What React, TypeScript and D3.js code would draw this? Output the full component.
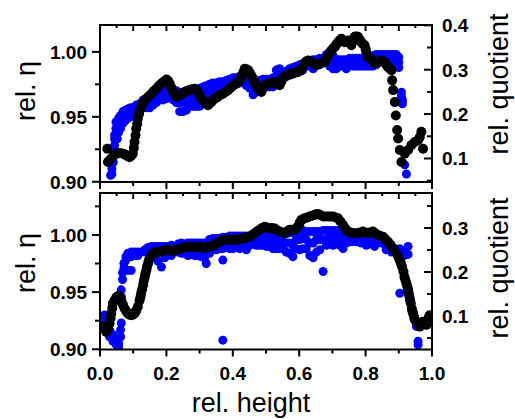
import React from 'react';
import * as d3 from 'd3';

// ---------- axis ticks ----------
const xMajor = [0, 0.2, 0.4, 0.6, 0.8, 1.0];
const xMinor = [0.1, 0.3, 0.5, 0.7, 0.9];
const xTopMajor = [0.1, 0.2, 0.3, 0.4, 0.5, 0.6, 0.7, 0.8, 0.9];
const xTopMinor = [0.05, 0.15, 0.25, 0.35, 0.45, 0.55, 0.65, 0.75, 0.85, 0.95];
const xLabels = ['0.0', '0.2', '0.4', '0.6', '0.8', '1.0'];
const etaMajor = [0.9, 0.95, 1.0];
const etaMinor = [0.925, 0.975, 1.025];
const quotMajor = [0.1, 0.2, 0.3, 0.4];
const quotMinor = [0.05, 0.15, 0.25, 0.35];

// ---------- top panel data ----------
// blue: rel. eta (left axis)
const topEta: [number, number][] = [
  [0.032, 0.905], [0.036, 0.910], [0.036, 0.906],
  [0.040, 0.920], [0.040, 0.915], [0.040, 0.926],
  [0.044, 0.933], [0.044, 0.928], [0.044, 0.936],
  [0.048, 0.941], [0.048, 0.937], [0.048, 0.946], [0.048, 0.923],
  [0.052, 0.946], [0.052, 0.941], [0.052, 0.933],
  [0.056, 0.949], [0.056, 0.943], [0.056, 0.938],
  [0.062, 0.951], [0.062, 0.946], [0.062, 0.941],
  [0.069, 0.954], [0.069, 0.949], [0.069, 0.945],
  [0.076, 0.955], [0.076, 0.951], [0.076, 0.947],
  [0.084, 0.956], [0.084, 0.952], [0.084, 0.949],
  [0.092, 0.957], [0.092, 0.954], [0.092, 0.950],
  [0.100, 0.957], [0.100, 0.955], [0.100, 0.952],
  [0.109, 0.959], [0.109, 0.956],
  [0.119, 0.960], [0.119, 0.957],
  [0.130, 0.963], [0.130, 0.959],
  [0.140, 0.964], [0.140, 0.960], [0.140, 0.957],
  [0.150, 0.966], [0.150, 0.961], [0.150, 0.957],
  [0.160, 0.968], [0.160, 0.963], [0.160, 0.959],
  [0.170, 0.969], [0.170, 0.965], [0.170, 0.961],
  [0.180, 0.970], [0.180, 0.966], [0.180, 0.963],
  [0.190, 0.970], [0.190, 0.967], [0.190, 0.963],
  [0.200, 0.972], [0.200, 0.968], [0.200, 0.964],
  [0.210, 0.972], [0.210, 0.969], [0.210, 0.966],
  [0.220, 0.970], [0.220, 0.966], [0.220, 0.963],
  [0.230, 0.970], [0.230, 0.965], [0.230, 0.961],
  [0.240, 0.969], [0.240, 0.961], [0.240, 0.954],
  [0.250, 0.969], [0.250, 0.961], [0.250, 0.954],
  [0.260, 0.970], [0.260, 0.964], [0.260, 0.955],
  [0.270, 0.971], [0.270, 0.965], [0.270, 0.959],
  [0.280, 0.970], [0.280, 0.964], [0.280, 0.958],
  [0.290, 0.970], [0.290, 0.964], [0.290, 0.958],
  [0.300, 0.972], [0.300, 0.965], [0.300, 0.958],
  [0.310, 0.973], [0.310, 0.968], [0.310, 0.961],
  [0.320, 0.974], [0.320, 0.969], [0.320, 0.964],
  [0.330, 0.975], [0.330, 0.970], [0.330, 0.964],
  [0.340, 0.976], [0.340, 0.972], [0.340, 0.968],
  [0.350, 0.976], [0.350, 0.973], [0.350, 0.970],
  [0.360, 0.977], [0.360, 0.974], [0.360, 0.971],
  [0.370, 0.977], [0.370, 0.975], [0.370, 0.972],
  [0.380, 0.978], [0.380, 0.975], [0.380, 0.973],
  [0.390, 0.979], [0.390, 0.976], [0.390, 0.973],
  [0.400, 0.980], [0.400, 0.977], [0.400, 0.975],
  [0.410, 0.980], [0.410, 0.978], [0.410, 0.975],
  [0.420, 0.981], [0.420, 0.979], [0.420, 0.976],
  [0.430, 0.983], [0.430, 0.980], [0.430, 0.979],
  [0.441, 0.982], [0.441, 0.978], [0.441, 0.974],
  [0.451, 0.979], [0.451, 0.974], [0.451, 0.972],
  [0.461, 0.977], [0.461, 0.972], [0.461, 0.967],
  [0.471, 0.977], [0.471, 0.973], [0.471, 0.969],
  [0.481, 0.978], [0.481, 0.975], [0.481, 0.972],
  [0.491, 0.979], [0.491, 0.976], [0.491, 0.972],
  [0.501, 0.979], [0.501, 0.976], [0.501, 0.973],
  [0.511, 0.979], [0.511, 0.977], [0.511, 0.973],
  [0.521, 0.980], [0.521, 0.977], [0.521, 0.973],
  [0.531, 0.986], [0.531, 0.980], [0.531, 0.976],
  [0.541, 0.987], [0.541, 0.983], [0.541, 0.980],
  [0.551, 0.984], [0.551, 0.982], [0.551, 0.980],
  [0.561, 0.985], [0.561, 0.983], [0.561, 0.981],
  [0.571, 0.987], [0.571, 0.984], [0.571, 0.982],
  [0.581, 0.988], [0.581, 0.986], [0.581, 0.983],
  [0.591, 0.989], [0.591, 0.987], [0.591, 0.985],
  [0.601, 0.990], [0.601, 0.988], [0.601, 0.986],
  [0.611, 0.991], [0.611, 0.989], [0.611, 0.986],
  [0.621, 0.993], [0.621, 0.991], [0.621, 0.989],
  [0.632, 0.993], [0.632, 0.992], [0.632, 0.989],
  [0.642, 0.994], [0.642, 0.991], [0.642, 0.987],
  [0.652, 0.994], [0.652, 0.992], [0.652, 0.990],
  [0.662, 0.995], [0.662, 0.992], [0.662, 0.990],
  [0.672, 0.995], [0.672, 0.994], [0.672, 0.992],
  [0.682, 0.998], [0.682, 0.996], [0.682, 0.992],
  [0.692, 0.997], [0.692, 0.993], [0.692, 0.989],
  [0.702, 0.997], [0.702, 0.992], [0.702, 0.987],
  [0.712, 0.994], [0.712, 0.991], [0.712, 0.987],
  [0.722, 0.994], [0.722, 0.992], [0.722, 0.989],
  [0.732, 0.994], [0.732, 0.992], [0.732, 0.989],
  [0.742, 0.994], [0.742, 0.992], [0.742, 0.987],
  [0.752, 0.995], [0.752, 0.992], [0.752, 0.989],
  [0.763, 0.995], [0.763, 0.993], [0.763, 0.989],
  [0.772, 0.995], [0.772, 0.992], [0.772, 0.989],
  [0.782, 0.995], [0.782, 0.992], [0.782, 0.989],
  [0.792, 0.995], [0.792, 0.993], [0.792, 0.989],
  [0.802, 0.997], [0.802, 0.993], [0.802, 0.989],
  [0.812, 0.997], [0.812, 0.992], [0.812, 0.989],
  [0.822, 0.997], [0.822, 0.993], [0.822, 0.989],
  [0.832, 0.998], [0.832, 0.994], [0.832, 0.990],
  [0.842, 0.998], [0.842, 0.995], [0.842, 0.992],
  [0.852, 0.998], [0.852, 0.996], [0.852, 0.993],
  [0.862, 0.998], [0.862, 0.996], [0.862, 0.995],
  [0.872, 0.998], [0.872, 0.996], [0.872, 0.995],
  [0.882, 0.998], [0.882, 0.996], [0.882, 0.993],
  [0.892, 0.998], [0.892, 0.995], [0.892, 0.991],
  [0.900, 0.996], [0.900, 0.992], [0.900, 0.988],
  [0.908, 0.969], [0.908, 0.966], [0.908, 0.961],
  [0.911, 0.960], [0.911, 0.963],
  [0.918, 0.913], [0.923, 0.906],
];

// black: rel. quotient (right axis)
const topQuot: [number, number][] = [
  [0.022, 0.122], [0.024, 0.092], [0.029, 0.096], [0.034, 0.100], [0.041, 0.106],
  [0.049, 0.111], [0.057, 0.112], [0.064, 0.112], [0.072, 0.110], [0.079, 0.107],
  [0.084, 0.105], [0.089, 0.103], [0.094, 0.106], [0.099, 0.111], [0.102, 0.124],
  [0.104, 0.137], [0.107, 0.152], [0.109, 0.167], [0.112, 0.178], [0.114, 0.190],
  [0.118, 0.201], [0.122, 0.212], [0.126, 0.220], [0.130, 0.227], [0.135, 0.231],
  [0.140, 0.235], [0.147, 0.240], [0.155, 0.246], [0.162, 0.252], [0.170, 0.257],
  [0.177, 0.263], [0.185, 0.269], [0.192, 0.273], [0.200, 0.278], [0.205, 0.275],
  [0.210, 0.269], [0.215, 0.259], [0.220, 0.250], [0.225, 0.244], [0.230, 0.239],
  [0.235, 0.240], [0.240, 0.242], [0.247, 0.246], [0.255, 0.250], [0.262, 0.252],
  [0.270, 0.254], [0.277, 0.256], [0.285, 0.257], [0.290, 0.254], [0.295, 0.250],
  [0.300, 0.243], [0.305, 0.235], [0.310, 0.231], [0.315, 0.227], [0.320, 0.223],
  [0.325, 0.220], [0.330, 0.224], [0.335, 0.227], [0.340, 0.231], [0.345, 0.235],
  [0.350, 0.237], [0.355, 0.239], [0.362, 0.243], [0.370, 0.246], [0.378, 0.250],
  [0.386, 0.254], [0.391, 0.258], [0.396, 0.261], [0.403, 0.265], [0.411, 0.269],
  [0.416, 0.273], [0.421, 0.276], [0.426, 0.283], [0.430, 0.290], [0.433, 0.296],
  [0.436, 0.302], [0.441, 0.301], [0.446, 0.299], [0.451, 0.293], [0.456, 0.287],
  [0.461, 0.280], [0.466, 0.272], [0.471, 0.264], [0.476, 0.257], [0.481, 0.253],
  [0.486, 0.250], [0.491, 0.258], [0.496, 0.265], [0.503, 0.267], [0.511, 0.269],
  [0.518, 0.271], [0.526, 0.272], [0.533, 0.268], [0.541, 0.265], [0.546, 0.273],
  [0.551, 0.280], [0.556, 0.284], [0.561, 0.287], [0.568, 0.289], [0.576, 0.291],
  [0.581, 0.292], [0.586, 0.293], [0.591, 0.294], [0.596, 0.295], [0.601, 0.297],
  [0.606, 0.299], [0.611, 0.307], [0.616, 0.314], [0.621, 0.318], [0.627, 0.321],
  [0.632, 0.319], [0.637, 0.317], [0.645, 0.313], [0.652, 0.310], [0.657, 0.312],
  [0.662, 0.314], [0.670, 0.316], [0.677, 0.317], [0.682, 0.325], [0.687, 0.332],
  [0.692, 0.338], [0.697, 0.344], [0.702, 0.348], [0.707, 0.351], [0.712, 0.357],
  [0.717, 0.362], [0.722, 0.366], [0.727, 0.370], [0.732, 0.366], [0.737, 0.362],
  [0.742, 0.364], [0.747, 0.366], [0.752, 0.360], [0.757, 0.355], [0.762, 0.365],
  [0.767, 0.374], [0.772, 0.375], [0.777, 0.374], [0.782, 0.368], [0.787, 0.362],
  [0.792, 0.358], [0.797, 0.355], [0.800, 0.347], [0.802, 0.340], [0.807, 0.329],
  [0.812, 0.327], [0.817, 0.325], [0.822, 0.320], [0.827, 0.314], [0.832, 0.316],
  [0.837, 0.317], [0.842, 0.319], [0.847, 0.321], [0.852, 0.319], [0.857, 0.317],
  [0.862, 0.312], [0.867, 0.306], [0.872, 0.303], [0.878, 0.299], [0.880, 0.276],
  [0.883, 0.254], [0.888, 0.227], [0.891, 0.197], [0.895, 0.164], [0.898, 0.145],
  [0.903, 0.119], [0.908, 0.092], [0.918, 0.111], [0.928, 0.119], [0.938, 0.130],
  [0.948, 0.137], [0.958, 0.141], [0.963, 0.148], [0.968, 0.160], [0.973, 0.122],
];

// ---------- bottom panel data ----------
const bottomEta: [number, number][] = [
  [0.006, 0.929], [0.014, 0.930], [0.014, 0.924], [0.022, 0.921], [0.022, 0.917],
  [0.029, 0.917], [0.029, 0.911], [0.039, 0.913], [0.039, 0.907], [0.049, 0.908],
  [0.049, 0.904], [0.056, 0.905], [0.056, 0.902], [0.062, 0.911], [0.062, 0.917],
  [0.064, 0.952], [0.064, 0.946], [0.064, 0.923], [0.068, 0.961], [0.068, 0.967],
  [0.072, 0.971], [0.072, 0.975], [0.078, 0.981], [0.078, 0.978],
  [0.084, 0.984], [0.084, 0.981], [0.084, 0.969],
  [0.094, 0.985], [0.094, 0.981], [0.094, 0.969],
  [0.104, 0.985], [0.104, 0.982], [0.114, 0.985], [0.114, 0.982], [0.124, 0.985],
  [0.135, 0.985], [0.135, 0.987], [0.145, 0.989], [0.145, 0.985],
  [0.155, 0.990], [0.155, 0.986], [0.165, 0.990], [0.165, 0.986],
  [0.175, 0.990], [0.175, 0.985], [0.175, 0.977],
  [0.185, 0.990], [0.185, 0.985], [0.185, 0.972],
  [0.195, 0.990], [0.195, 0.984], [0.195, 0.980],
  [0.205, 0.990], [0.205, 0.986],
  [0.215, 0.991], [0.215, 0.987], [0.215, 0.982],
  [0.225, 0.990], [0.225, 0.986],
  [0.235, 0.992], [0.235, 0.987], [0.235, 0.985],
  [0.245, 0.993], [0.245, 0.988], [0.245, 0.984],
  [0.255, 0.992], [0.255, 0.987], [0.255, 0.984],
  [0.265, 0.993], [0.265, 0.988], [0.265, 0.982],
  [0.275, 0.993], [0.275, 0.989], [0.275, 0.983],
  [0.285, 0.993], [0.285, 0.989], [0.285, 0.982],
  [0.295, 0.993], [0.295, 0.988], [0.295, 0.982],
  [0.305, 0.993], [0.305, 0.987], [0.305, 0.981],
  [0.315, 0.993], [0.315, 0.987], [0.315, 0.980], [0.320, 0.975],
  [0.330, 0.996], [0.330, 0.990], [0.330, 0.984],
  [0.340, 0.997], [0.340, 0.991], [0.340, 0.987],
  [0.350, 0.997], [0.350, 0.993], [0.350, 0.987],
  [0.360, 0.997], [0.360, 0.993], [0.360, 0.988],
  [0.370, 0.998], [0.370, 0.993], [0.370, 0.988], [0.370, 0.978], [0.370, 0.908],
  [0.381, 0.998], [0.381, 0.993], [0.381, 0.989],
  [0.391, 0.999], [0.391, 0.994], [0.391, 0.988],
  [0.401, 0.999], [0.401, 0.994], [0.401, 0.988],
  [0.411, 0.999], [0.411, 0.994], [0.411, 0.989],
  [0.421, 0.999], [0.421, 0.993], [0.421, 0.988],
  [0.431, 0.999], [0.431, 0.994], [0.431, 0.990],
  [0.441, 0.999], [0.441, 0.994], [0.441, 0.987],
  [0.451, 0.999], [0.451, 0.995], [0.451, 0.991],
  [0.461, 0.999], [0.461, 0.996], [0.461, 0.993],
  [0.471, 0.999], [0.471, 0.996], [0.471, 0.991],
  [0.481, 1.000], [0.481, 0.996], [0.481, 0.991],
  [0.491, 1.000], [0.491, 0.996], [0.491, 0.991],
  [0.501, 1.000], [0.501, 0.996], [0.501, 0.990],
  [0.511, 1.000], [0.511, 0.996], [0.511, 0.990],
  [0.521, 1.000], [0.521, 0.994], [0.521, 0.988],
  [0.531, 1.000], [0.531, 0.994], [0.531, 0.988],
  [0.541, 1.000], [0.541, 0.993], [0.541, 0.988],
  [0.551, 1.000], [0.551, 0.994], [0.551, 0.988],
  [0.561, 1.001], [0.561, 0.993], [0.561, 0.985],
  [0.571, 1.002], [0.571, 0.993], [0.571, 0.984],
  [0.581, 1.002], [0.581, 0.991], [0.581, 0.981],
  [0.591, 1.002], [0.591, 0.996], [0.591, 0.988],
  [0.601, 1.003], [0.601, 0.996], [0.601, 0.987],
  [0.611, 1.004], [0.611, 0.997], [0.611, 0.988],
  [0.621, 1.003], [0.621, 0.996], [0.621, 0.988],
  [0.632, 1.003], [0.632, 0.993], [0.632, 0.982],
  [0.642, 1.003], [0.642, 0.993], [0.642, 0.980],
  [0.652, 1.003], [0.652, 0.996], [0.652, 0.985],
  [0.662, 1.003], [0.662, 0.996], [0.662, 0.987],
  [0.672, 1.004], [0.672, 0.996], [0.672, 0.968],
  [0.682, 1.004], [0.682, 0.996], [0.682, 0.991],
  [0.692, 1.004], [0.692, 1.000], [0.692, 0.994],
  [0.702, 1.004], [0.702, 0.999], [0.702, 0.991],
  [0.712, 1.004], [0.712, 0.999], [0.712, 0.993],
  [0.722, 1.003], [0.722, 0.996], [0.722, 0.991],
  [0.732, 1.003], [0.732, 0.996], [0.732, 0.988],
  [0.742, 1.002], [0.742, 0.996], [0.742, 0.993],
  [0.757, 0.999], [0.757, 0.994], [0.772, 0.997], [0.772, 0.994],
  [0.787, 0.997], [0.787, 0.993], [0.802, 0.997], [0.802, 0.991],
  [0.817, 0.996], [0.817, 0.992], [0.827, 0.993], [0.827, 0.990],
  [0.847, 0.993], [0.862, 0.990], [0.862, 0.987], [0.878, 0.987], [0.878, 0.985],
  [0.893, 0.987], [0.903, 0.988], [0.903, 0.949], [0.916, 0.985], [0.916, 0.982],
  [0.928, 0.990], [0.928, 0.983], [0.953, 0.920], [0.958, 0.907], [0.958, 0.904],
];

const bottomQuot: [number, number][] = [
  [0.009, 0.076], [0.014, 0.070], [0.019, 0.064], [0.024, 0.072], [0.029, 0.083],
  [0.032, 0.095], [0.034, 0.106], [0.037, 0.118], [0.039, 0.129], [0.044, 0.136],
  [0.049, 0.142], [0.052, 0.144], [0.056, 0.146], [0.060, 0.142], [0.064, 0.136],
  [0.069, 0.126], [0.074, 0.117], [0.079, 0.111], [0.084, 0.106], [0.089, 0.103],
  [0.094, 0.102], [0.099, 0.103], [0.104, 0.106], [0.109, 0.112], [0.114, 0.121],
  [0.119, 0.135], [0.122, 0.143], [0.124, 0.152], [0.127, 0.161], [0.130, 0.171],
  [0.132, 0.180], [0.135, 0.189], [0.137, 0.197], [0.140, 0.205], [0.142, 0.213],
  [0.145, 0.220], [0.147, 0.226], [0.150, 0.231], [0.155, 0.239], [0.160, 0.242],
  [0.165, 0.244], [0.172, 0.245], [0.180, 0.246], [0.187, 0.248], [0.195, 0.249],
  [0.202, 0.251], [0.210, 0.250], [0.217, 0.248], [0.225, 0.249], [0.232, 0.251],
  [0.240, 0.252], [0.247, 0.254], [0.255, 0.256], [0.262, 0.257], [0.270, 0.258],
  [0.277, 0.257], [0.285, 0.256], [0.292, 0.257], [0.300, 0.258], [0.307, 0.256],
  [0.315, 0.254], [0.322, 0.256], [0.330, 0.258], [0.337, 0.259], [0.345, 0.261],
  [0.352, 0.265], [0.360, 0.269], [0.367, 0.271], [0.375, 0.273], [0.383, 0.274],
  [0.391, 0.274], [0.398, 0.273], [0.406, 0.273], [0.413, 0.274], [0.421, 0.274],
  [0.428, 0.276], [0.436, 0.277], [0.443, 0.279], [0.451, 0.280], [0.458, 0.284],
  [0.466, 0.288], [0.473, 0.292], [0.481, 0.296], [0.488, 0.300], [0.496, 0.303],
  [0.503, 0.301], [0.511, 0.299], [0.518, 0.300], [0.526, 0.299], [0.533, 0.295],
  [0.541, 0.292], [0.548, 0.290], [0.556, 0.288], [0.563, 0.292], [0.571, 0.296],
  [0.578, 0.296], [0.586, 0.296], [0.591, 0.299], [0.596, 0.303], [0.601, 0.311],
  [0.606, 0.318], [0.611, 0.320], [0.616, 0.322], [0.624, 0.324], [0.632, 0.326],
  [0.639, 0.328], [0.647, 0.330], [0.652, 0.331], [0.657, 0.332], [0.664, 0.329],
  [0.672, 0.326], [0.679, 0.326], [0.687, 0.326], [0.694, 0.326], [0.702, 0.326],
  [0.709, 0.324], [0.717, 0.322], [0.724, 0.315], [0.732, 0.307], [0.739, 0.299],
  [0.747, 0.292], [0.754, 0.290], [0.762, 0.288], [0.769, 0.288], [0.777, 0.288],
  [0.784, 0.290], [0.792, 0.292], [0.799, 0.290], [0.807, 0.288], [0.814, 0.290],
  [0.822, 0.292], [0.829, 0.288], [0.837, 0.284], [0.844, 0.282], [0.852, 0.280],
  [0.859, 0.275], [0.867, 0.269], [0.875, 0.262], [0.883, 0.254], [0.890, 0.245],
  [0.898, 0.235], [0.903, 0.226], [0.907, 0.219], [0.910, 0.212], [0.914, 0.201],
  [0.917, 0.189], [0.920, 0.182], [0.923, 0.174], [0.926, 0.166], [0.928, 0.159],
  [0.930, 0.151], [0.932, 0.144], [0.934, 0.136], [0.936, 0.129], [0.939, 0.117],
  [0.941, 0.111], [0.943, 0.106], [0.946, 0.098], [0.948, 0.092], [0.953, 0.087],
  [0.958, 0.081], [0.963, 0.076], [0.968, 0.082], [0.973, 0.087], [0.978, 0.084],
  [0.983, 0.080], [0.988, 0.090], [0.993, 0.102],
];

// ---------- layout ----------
const W = 515;
const H = 419;
const LEFT = 100;
const RIGHT = 432;
const FONT = "'Liberation Sans', Arial, sans-serif";
const BLUE = '#0000ff';

type PanelProps = {
  id: string;
  y0: number;
  y1: number;
  etaDomain: [number, number];
  quotDomain: [number, number];
  eta: [number, number][];
  quot: [number, number][];
  showXLabels: boolean;
  etaTitleY: number;
  quotTitleY: number;
};

const inDom = (v: number, d: [number, number]) => v >= d[0] - 1e-6 && v <= d[1] + 1e-6;

function Panel(p: PanelProps) {
  const x = d3.scaleLinear().domain([0, 1]).range([LEFT, RIGHT]);
  const yE = d3.scaleLinear().domain(p.etaDomain).range([p.y1, p.y0]);
  const yQ = d3.scaleLinear().domain(p.quotDomain).range([p.y1, p.y0]);
  const tickStyle = { stroke: '#000', strokeWidth: 2 };
  return (
    <g>
      <defs>
        <clipPath id={p.id}>
          <rect x={LEFT} y={p.y0} width={RIGHT - LEFT} height={p.y1 - p.y0} />
        </clipPath>
      </defs>
      <g clipPath={`url(#${p.id})`}>
        {p.eta.map((d, i) => (
          <circle key={'e' + i} cx={x(d[0])} cy={yE(d[1])} r={4.5} fill={BLUE} />
        ))}
        {p.quot.map((d, i) => (
          <circle key={'q' + i} cx={x(d[0])} cy={yQ(d[1])} r={5} fill="#000" />
        ))}
      </g>
      <rect x={LEFT} y={p.y0} width={RIGHT - LEFT} height={p.y1 - p.y0} fill="none" stroke="#000" strokeWidth={2} />
      {xMajor.map((t) => (
        <line key={'xm' + t} x1={x(t)} x2={x(t)} y1={p.y1} y2={p.y1 + 7} {...tickStyle} />
      ))}
      {xMinor.map((t) => (
        <line key={'xn' + t} x1={x(t)} x2={x(t)} y1={p.y1} y2={p.y1 + 4} {...tickStyle} />
      ))}
      {xTopMajor.map((t) => (
        <line key={'tm' + t} x1={x(t)} x2={x(t)} y1={p.y0} y2={p.y0 + 6} {...tickStyle} />
      ))}
      {xTopMinor.map((t) => (
        <line key={'tn' + t} x1={x(t)} x2={x(t)} y1={p.y0} y2={p.y0 + 3} {...tickStyle} />
      ))}
      {etaMajor.filter((t) => inDom(t, p.etaDomain)).map((t) => (
        <g key={'em' + t}>
          <line x1={LEFT - 8} x2={LEFT} y1={yE(t)} y2={yE(t)} {...tickStyle} />
          <text x={LEFT - 13} y={yE(t)} dy="0.36em" textAnchor="end" fontFamily={FONT} fontWeight="bold" fontSize={19}>
            {t.toFixed(2)}
          </text>
        </g>
      ))}
      {etaMinor.filter((t) => inDom(t, p.etaDomain)).map((t) => (
        <line key={'en' + t} x1={LEFT - 5} x2={LEFT} y1={yE(t)} y2={yE(t)} {...tickStyle} />
      ))}
      {quotMajor.filter((t) => inDom(t, p.quotDomain)).map((t) => (
        <g key={'qm' + t}>
          <line x1={RIGHT - 8} x2={RIGHT} y1={yQ(t)} y2={yQ(t)} {...tickStyle} />
          <text x={RIGHT + 10} y={yQ(t)} dy="0.36em" textAnchor="start" fontFamily={FONT} fontWeight="bold" fontSize={19}>
            {t.toFixed(1)}
          </text>
        </g>
      ))}
      {quotMinor.filter((t) => inDom(t, p.quotDomain)).map((t) => (
        <line key={'qn' + t} x1={RIGHT - 5} x2={RIGHT} y1={yQ(t)} y2={yQ(t)} {...tickStyle} />
      ))}
      {p.showXLabels &&
        xMajor.map((t, i) => (
          <text key={'xl' + t} x={x(t)} y={p.y1 + 30} textAnchor="middle" fontFamily={FONT} fontWeight="bold" fontSize={19}>
            {xLabels[i]}
          </text>
        ))}
      <text transform={`translate(35,${p.etaTitleY}) rotate(-90)`} textAnchor="middle" fontFamily={FONT} fontSize={27}>
        rel. η
      </text>
      <text transform={`translate(508,${p.quotTitleY}) rotate(-90)`} textAnchor="middle" fontFamily={FONT} fontSize={27}>
        rel. quotient
      </text>
    </g>
  );
}

export default function App() {
  return (
    <svg
      width={W}
      height={H}
      viewBox={`0 0 ${W} ${H}`}
      style={{ position: 'absolute', left: 0, top: 0, background: '#fff' }}
    >
      <rect x={0} y={0} width={W} height={H} fill="#fff" />
      <Panel
        id="clipTop"
        y0={25}
        y1={182}
        etaDomain={[0.8998, 1.0207]}
        quotDomain={[0.047, 0.4007]}
        eta={topEta}
        quot={topQuot}
        showXLabels={false}
        etaTitleY={91}
        quotTitleY={84}
      />
      <Panel
        id="clipBottom"
        y0={193}
        y1={349.5}
        etaDomain={[0.8998, 1.0367]}
        quotDomain={[0.024, 0.3795]}
        eta={bottomEta}
        quot={bottomQuot}
        showXLabels={true}
        etaTitleY={263}
        quotTitleY={268}
      />
      <text x={251} y={412} textAnchor="middle" fontFamily={FONT} fontSize={27}>
        rel. height
      </text>
    </svg>
  );
}
